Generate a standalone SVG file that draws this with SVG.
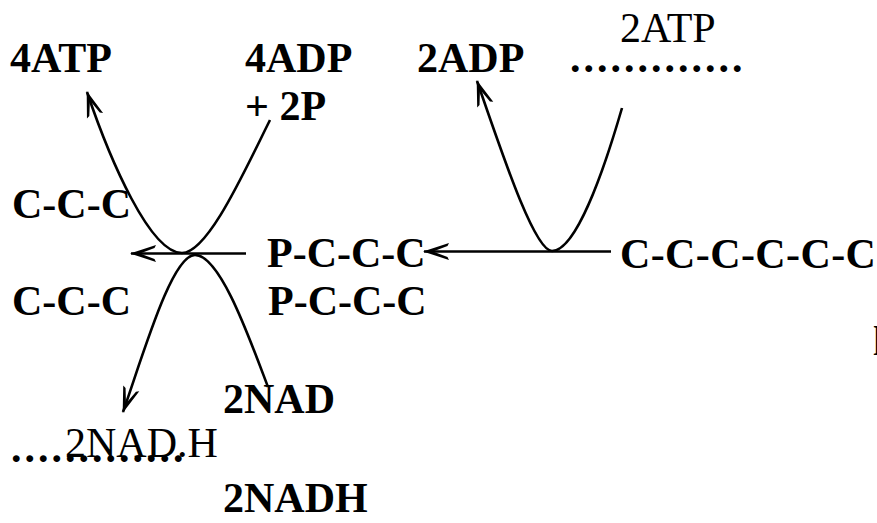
<svg xmlns="http://www.w3.org/2000/svg" width="877" height="523" viewBox="0 0 877 523">
<style>
text{font-family:"Liberation Serif","Times New Roman",serif;font-size:42px;fill:#000}
.b{font-weight:bold}
.dots{font-weight:bold;letter-spacing:3px}
.c{fill:none;stroke:#000;stroke-width:2.6}
</style>
<defs>
<marker id="ah" markerUnits="userSpaceOnUse" orient="auto" markerWidth="30" markerHeight="20" viewBox="-27 -10 29 20" refX="0" refY="0" overflow="visible">
<path d="M1,0 L-25,-8.5 L-23.5,-5.5 L-9,0 L-23.5,5.5 L-25,8.5 Z" fill="#000"/>
</marker>
</defs>
<rect width="877" height="523" fill="#fff"/>
<g id="connectors">
<path class="c" d="M246,253.5 L131,253.5" marker-end="url(#ah)"/>
<path class="c" d="M611,251.5 L424,251.5" marker-end="url(#ah)"/>
<path class="c" d="M270,120 C245,170 208,253 182,253 C150,253 110,160 87,92" marker-end="url(#ah)"/>
<path class="c" d="M268,387 C249,337 220,255 195,255 C172,255 144,352 123,412" marker-end="url(#ah)"/>
<path class="c" d="M622,108 C604,170 576,251 552,251 C534,251 501,150 477,81" marker-end="url(#ah)"/>
</g>
<g id="n4ATP"><text class="b" x="10" y="72">4ATP</text></g>
<g id="n4ADP"><text class="b" x="245" y="72">4ADP</text><text class="b" x="245" y="120">+ 2P</text></g>
<g id="n2ADP"><text class="b" x="417" y="72">2ADP</text></g>
<g id="n2ATP"><text x="620" y="42">2ATP</text><text class="dots" x="570" y="72">.............</text></g>
<g id="nCCC1"><text class="b" x="12" y="218">C-C-C</text></g>
<g id="nCCC2"><text class="b" x="12" y="315">C-C-C</text></g>
<g id="nPCCC1"><text class="b" x="267" y="267">P-C-C-C</text></g>
<g id="nPCCC2"><text class="b" x="268" y="315">P-C-C-C</text></g>
<g id="nGlucose"><text class="b" x="620" y="268" letter-spacing="0.4">C-C-C-C-C-C</text></g>
<g id="n2NAD"><text class="b" x="223" y="413">2NAD</text></g>
<g id="n2NADH1"><text class="dots" x="11" y="462">.............</text><text x="65" y="457">2NAD.H</text></g>
<g id="n2NADH2"><text class="b" x="223" y="512">2NADH</text></g>
<g id="edge"><text class="b" x="873" y="355">l</text></g>
</svg>
